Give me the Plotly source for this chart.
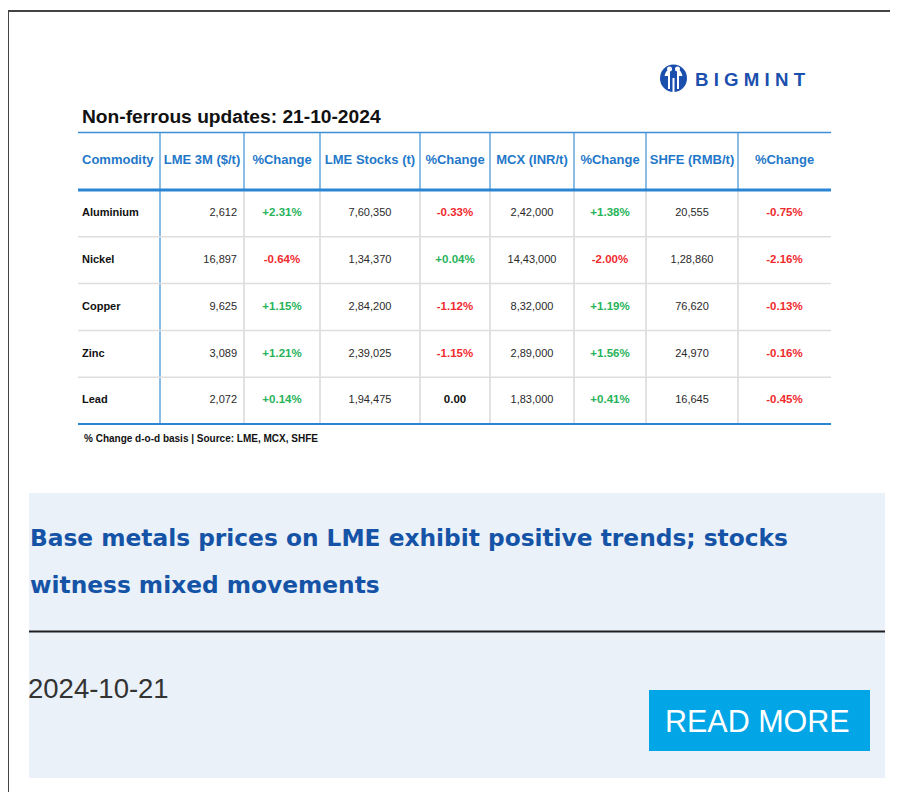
import plotly.graph_objects as go

# ---------------- data ----------------
title_text = "Non-ferrous updates: 21-10-2024"
headers = ["Commodity", "LME 3M ($/t)", "%Change", "LME Stocks (t)", "%Change",
           "MCX (INR/t)", "%Change", "SHFE (RMB/t)", "%Change"]
commodities = ["Aluminium", "Nickel", "Copper", "Zinc", "Lead"]
lme_3m = [2612, 16897, 9625, 3089, 2072]
lme_3m_chg = [2.31, -0.64, 1.15, 1.21, 0.14]
lme_stocks = [760350, 134370, 284200, 239025, 194475]
lme_stocks_chg = [-0.33, 0.04, -1.12, -1.15, 0.00]
mcx = [242000, 1443000, 832000, 289000, 183000]
mcx_chg = [1.38, -2.00, 1.19, 1.56, 0.41]
shfe = [20555, 128860, 76620, 24970, 16645]
shfe_chg = [-0.75, -2.16, -0.13, -0.16, -0.45]
footnote = "% Change d-o-d basis | Source: LME, MCX, SHFE"
headline = ["Base metals prices on LME exhibit positive trends; stocks",
            "witness mixed movements"]
date_text = "2024-10-21"
button_text = "READ MORE"
brand = "BIGMINT"

# ---------------- layout constants ----------------
W, H = 898, 792
OFF = 8  # page body margin compensation
col_edges = [78, 160, 244, 320, 420, 490, 574, 646, 738, 831]
y_top, y_head, y_body, y_bottom = 132.5, 161, 190, 424
row_h = (y_bottom - y_body) / len(commodities)

HEAD_BLUE = "#1f78c9"
LINE_BLUE = "#3b8fd6"
GREEN = "#27b35a"
RED = "#ef2a2e"
TXT = "#2a2a2a"
FONT = "Liberation Sans"


def indian(n):
    s = str(int(n))
    if len(s) <= 3:
        return s
    last3 = s[-3:]
    rest = s[:-3]
    parts = []
    while len(rest) > 2:
        parts.insert(0, rest[-2:])
        rest = rest[:-2]
    if rest:
        parts.insert(0, rest)
    return ",".join(parts) + "," + last3


def western(n):
    return f"{int(n):,}"


def pct(v):
    if v > 0:
        return f"+{v:.2f}%", GREEN
    if v < 0:
        return f"{v:.2f}%", RED
    return f"{v:.2f}", "#111111"


centers = [(col_edges[i] + col_edges[i + 1]) / 2 for i in range(len(col_edges) - 1)]
row_y = [y_body + row_h * (i + 0.5) for i in range(len(commodities))]

fig = go.Figure()

# commodity names
fig.add_trace(go.Scatter(
    x=[col_edges[0] + 4] * len(commodities), y=row_y, mode="text",
    text=commodities, textposition="middle right",
    textfont=dict(family=FONT, size=11, color="#111111", weight="bold"),
    hoverinfo="skip", showlegend=False))

# LME 3M (right aligned)
fig.add_trace(go.Scatter(
    x=[col_edges[2] - 7] * len(commodities), y=row_y, mode="text",
    text=[western(v) for v in lme_3m], textposition="middle left",
    textfont=dict(family=FONT, size=11, color=TXT),
    hoverinfo="skip", showlegend=False))

# centered numeric columns
for ci, vals in [(3, lme_stocks), (5, mcx), (7, shfe)]:
    fig.add_trace(go.Scatter(
        x=[centers[ci]] * len(vals), y=row_y, mode="text",
        text=[indian(v) for v in vals], textposition="middle center",
        textfont=dict(family=FONT, size=11, color=TXT),
        hoverinfo="skip", showlegend=False))

# percent change columns
for ci, vals in [(2, lme_3m_chg), (4, lme_stocks_chg), (6, mcx_chg), (8, shfe_chg)]:
    txt = [pct(v)[0] for v in vals]
    col = [pct(v)[1] for v in vals]
    fig.add_trace(go.Scatter(
        x=[centers[ci]] * len(vals), y=row_y, mode="text",
        text=txt, textposition="middle center",
        textfont=dict(family=FONT, size=11.5, color=col, weight="bold"),
        hoverinfo="skip", showlegend=False))

# header texts
fig.add_trace(go.Scatter(
    x=[col_edges[0] + 4], y=[y_head], mode="text", text=[headers[0]],
    textposition="middle right",
    textfont=dict(family=FONT, size=13, color=HEAD_BLUE, weight="bold"),
    hoverinfo="skip", showlegend=False))
fig.add_trace(go.Scatter(
    x=centers[1:], y=[y_head] * (len(headers) - 1), mode="text", text=headers[1:],
    textposition="middle center",
    textfont=dict(family=FONT, size=13, color=HEAD_BLUE, weight="bold"),
    hoverinfo="skip", showlegend=False))

shapes = []
# outer frame
shapes.append(dict(type="line", x0=8, x1=W + 20, y0=11, y1=11, line=dict(color="#444", width=2)))
shapes.append(dict(type="line", x0=8, x1=8, y0=11, y1=H + 20, line=dict(color="#444", width=2)))

# table lines
for xe in col_edges[1:-1]:
    shapes.append(dict(type="line", x0=xe, x1=xe, y0=y_top, y1=y_body,
                       line=dict(color=LINE_BLUE, width=1.2)))
    shapes.append(dict(type="line", x0=xe, x1=xe, y0=y_body, y1=y_bottom,
                       line=dict(color=LINE_BLUE if xe == col_edges[1] else "#cfcfcf", width=1.2)))
for i in range(1, len(commodities)):
    yy = y_body + row_h * i
    shapes.append(dict(type="line", x0=col_edges[0], x1=col_edges[-1], y0=yy, y1=yy,
                       line=dict(color="#dedede", width=1.5)))
shapes.append(dict(type="line", x0=col_edges[0], x1=col_edges[-1], y0=y_top, y1=y_top,
                   line=dict(color=LINE_BLUE, width=1.5)))
shapes.append(dict(type="line", x0=col_edges[0], x1=col_edges[-1], y0=y_body, y1=y_body,
                   line=dict(color="#2a86d4", width=3)))
shapes.append(dict(type="line", x0=col_edges[0], x1=col_edges[-1], y0=y_bottom, y1=y_bottom,
                   line=dict(color="#2a86d4", width=2)))

# light card box
shapes.append(dict(type="rect", x0=29, x1=885, y0=493, y1=778, fillcolor="#eaf1f9",
                   line=dict(width=0), layer="below"))
shapes.append(dict(type="line", x0=29, x1=885, y0=631.5, y1=631.5,
                   line=dict(color="#1e1e1e", width=2)))
# button
shapes.append(dict(type="rect", x0=649, x1=870, y0=690, y1=751, fillcolor="#02a6e6",
                   line=dict(width=0)))

# logo icon
LOGO = "#1b4fae"
shapes.append(dict(type="circle", x0=660, x1=687, y0=64.5, y1=92, fillcolor=LOGO, line=dict(width=0)))
shapes.append(dict(type="path",
                   path="M 664.5 76 Q 666 69 670 70 L 670 89 L 668 89 L 668 76 Z",
                   fillcolor="white", line=dict(width=0)))
shapes.append(dict(type="path",
                   path="M 682.5 76 Q 681 69 677 70 L 677 89 L 679 89 L 679 76 Z",
                   fillcolor="white", line=dict(width=0)))
shapes.append(dict(type="circle", x0=667, x1=672, y0=66.5, y1=71.5, fillcolor="white", line=dict(width=0)))
shapes.append(dict(type="circle", x0=675, x1=680, y0=66.5, y1=71.5, fillcolor="white", line=dict(width=0)))
shapes.append(dict(type="rect", x0=672.5, x1=674.5, y0=78, y1=92, fillcolor="white", line=dict(width=0)))

annotations = [
    dict(x=80, y=116, text=title_text, showarrow=False, xanchor="left", yanchor="middle",
         font=dict(family=FONT, size=19.2, color="#111111", weight="bold")),
    dict(x=693, y=79, text=" ".join(brand), showarrow=False, xanchor="left", yanchor="middle",
         font=dict(family=FONT, size=18.7, color=LOGO, weight="bold")),
    dict(x=82, y=438, text=footnote, showarrow=False, xanchor="left", yanchor="middle",
         font=dict(family=FONT, size=10, color="#111111", weight="bold")),
    dict(x=28, y=537, text=headline[0], showarrow=False, xanchor="left", yanchor="middle",
         font=dict(family="DejaVu Sans", size=23.3, color="#1553a6", weight="bold")),
    dict(x=28, y=584, text=headline[1], showarrow=False, xanchor="left", yanchor="middle",
         font=dict(family="DejaVu Sans", size=23.3, color="#1553a6", weight="bold")),
    dict(x=26, y=688, text=date_text, showarrow=False, xanchor="left", yanchor="middle",
         font=dict(family=FONT, size=27.5, color="#333333")),
    dict(x=757, y=721, text=button_text, showarrow=False, xanchor="center", yanchor="middle",
         font=dict(family=FONT, size=30.5, color="white")),
]

fig.update_layout(
    width=W, height=H, margin=dict(l=0, r=0, t=0, b=0),
    paper_bgcolor="white", plot_bgcolor="white",
    xaxis=dict(range=[OFF, W + OFF], visible=False, fixedrange=True),
    yaxis=dict(range=[H + OFF, OFF], visible=False, fixedrange=True),
    shapes=shapes, annotations=annotations, showlegend=False,
)

fig.write_html("out.html")
